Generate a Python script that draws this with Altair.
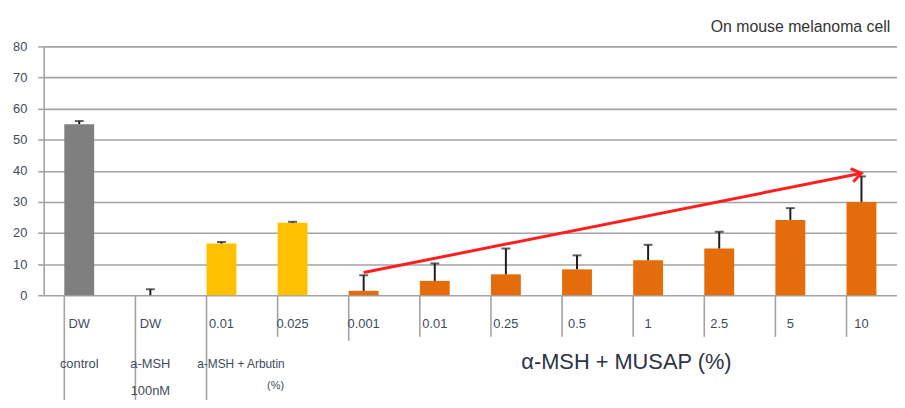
import altair as alt
import pandas as pd

# ---- data ----
categories = ["DW control", "DW a-MSH", "Arbutin 0.01", "Arbutin 0.025",
              "MUSAP 0.001", "MUSAP 0.01", "MUSAP 0.25", "MUSAP 0.5",
              "MUSAP 1", "MUSAP 2.5", "MUSAP 5", "MUSAP 10"]
tick_labels = ["DW", "DW", "0.01", "0.025", "0.001", "0.01", "0.25", "0.5",
               "1", "2.5", "5", "10"]
groups = ["DW", "DW", "Arbutin", "Arbutin"] + ["MUSAP"] * 8
values = [55.0, 0.0, 16.6, 23.3, 1.4, 4.6, 6.7, 8.3, 11.2, 15.0, 24.2, 30.0]
err_top = [56.0, 1.9, 17.1, 23.6, 6.4, 10.2, 15.0, 12.8, 16.2, 20.4, 28.0, 38.2]

arrow_cats = ["MUSAP 0.001", "MUSAP 10"]
arrow_vals = [7.3, 39.2]

row2_cats = ["DW control", "DW a-MSH"]
row2_labels = ["control", "a-MSH"]
row3_cats = ["DW a-MSH"]
row3_labels = ["100nM"]

y_ticks = [0, 10, 20, 30, 40, 50, 60, 70, 80]

full_div = ["DW control", "DW a-MSH", "Arbutin 0.01"]
mid_div = ["MUSAP 0.001"]
short_div = ["Arbutin 0.025", "MUSAP 0.01", "MUSAP 0.25", "MUSAP 0.5",
             "MUSAP 1", "MUSAP 2.5", "MUSAP 5", "MUSAP 10"]

df = pd.DataFrame({"cat": categories, "label": tick_labels, "group": groups,
                   "val": values, "err": err_top})
df_arrow = pd.DataFrame({"cat": arrow_cats, "val": arrow_vals})
df_row2 = pd.DataFrame({"cat": row2_cats, "label": row2_labels})
df_row3 = pd.DataFrame({"cat": row3_cats, "label": row3_labels})

FONT = "Liberation Sans"
TXT = "#3f4a5e"
GRID = "#a3a3a3"

xscale = alt.Scale(domain=categories, paddingInner=0.58, paddingOuter=0.29)
yscale = alt.Scale(domain=[0, 80], nice=False, zero=True)
yaxis = alt.Axis(values=y_ticks, title=None, grid=True, gridColor=GRID,
                 gridWidth=1.6, domainColor=GRID, domainWidth=1.6,
                 tickColor=GRID, tickWidth=1.6, tickSize=6,
                 labelPadding=11, labelFont=FONT, labelFontSize=13,
                 labelColor=TXT, labelOverlap=False)
X = alt.X("cat:N", scale=xscale, axis=None, sort=categories)


def Y(field):
    return alt.Y(field, scale=yscale, axis=yaxis)


base = alt.Chart(df)

bars = base.mark_bar().encode(
    x=X,
    y=Y("val:Q"),
    color=alt.Color("group:N", legend=None,
                    scale=alt.Scale(domain=["DW", "Arbutin", "MUSAP"],
                                    range=["#7f7f7f", "#ffc000", "#e46c0a"])),
)

err_rule = base.mark_rule(color="#1e1e1e", strokeWidth=2).encode(
    x=X, y=Y("val:Q"), y2="err:Q")
err_cap = base.mark_tick(color="#1e1e1e", thickness=2, size=9).encode(
    x=X, y=Y("err:Q"))

arrow_line = alt.Chart(df_arrow).mark_line(color="#ff1f1f", strokeWidth=3).encode(
    x=X, y=Y("val:Q"))
arrow_head = alt.Chart(df_arrow).transform_filter(
    alt.datum.cat == arrow_cats[-1]
).mark_point(shape="M-1,-0.7L0,0L-1,0.7", filled=False, strokeWidth=3,
             size=380, angle=348.7, color="#ff1f1f", opacity=1).encode(
    x=X, y=Y("val:Q"))

XB = alt.X("cat:N", scale=xscale, axis=None, bandPosition=0)
div_full = base.transform_filter(
    alt.FieldOneOfPredicate(field="cat", oneOf=full_div)
).mark_rule(color=GRID, strokeWidth=1.6).encode(
    x=XB, y=alt.value(251), y2=alt.value(360))
div_mid = base.transform_filter(
    alt.FieldOneOfPredicate(field="cat", oneOf=mid_div)
).mark_rule(color=GRID, strokeWidth=1.6).encode(
    x=XB, y=alt.value(251), y2=alt.value(297))
div_short = base.transform_filter(
    alt.FieldOneOfPredicate(field="cat", oneOf=short_div)
).mark_rule(color=GRID, strokeWidth=1.6).encode(
    x=XB, y=alt.value(251), y2=alt.value(293))

row1 = base.mark_text(font=FONT, fontSize=13, color=TXT, baseline="middle").encode(
    x=X, y=alt.value(280), text="label:N")
row2 = alt.Chart(df_row2).mark_text(font=FONT, fontSize=13, color=TXT,
                                    baseline="middle").encode(
    x=X, y=alt.value(320), text="label:N")
row3 = alt.Chart(df_row3).mark_text(font=FONT, fontSize=13, color=TXT,
                                    baseline="middle").encode(
    x=X, y=alt.value(348), text="label:N")

arb_label = alt.Chart(pd.DataFrame({"t": ["a-MSH + Arbutin"]})).mark_text(
    font=FONT, fontSize=12, color=TXT, baseline="middle").encode(
    x=alt.value(199), y=alt.value(320), text="t:N")
arb_pct = alt.Chart(pd.DataFrame({"t": ["(%)"]})).mark_text(
    font=FONT, fontSize=11, color=TXT, baseline="middle").encode(
    x=alt.value(234), y=alt.value(343), text="t:N")
musap_label = alt.Chart(pd.DataFrame({"t": ["α-MSH + MUSAP (%)"]})).mark_text(
    font=FONT, fontSize=22, color="#2b3345", baseline="middle").encode(
    x=alt.value(588), y=alt.value(318), text="t:N")
title = alt.Chart(pd.DataFrame({"t": ["On mouse melanoma cell"]})).mark_text(
    font=FONT, fontSize=16, color="#333333", baseline="middle", align="left").encode(
    x=alt.value(673), y=alt.value(-20), text="t:N")

chart = alt.layer(
    bars, div_full, div_mid, div_short, err_rule, err_cap, arrow_line, arrow_head,
    row1, row2, row3, arb_label, arb_pct, musap_label, title
).properties(
    width=861, height=251,
    autosize=alt.AutoSizeParams(type="none"),
    padding={"left": 36, "top": 37, "right": 0, "bottom": 104},
    background="white",
).configure_view(stroke=None)

chart.save("out.html", embed_options={"renderer": "svg", "actions": False})
